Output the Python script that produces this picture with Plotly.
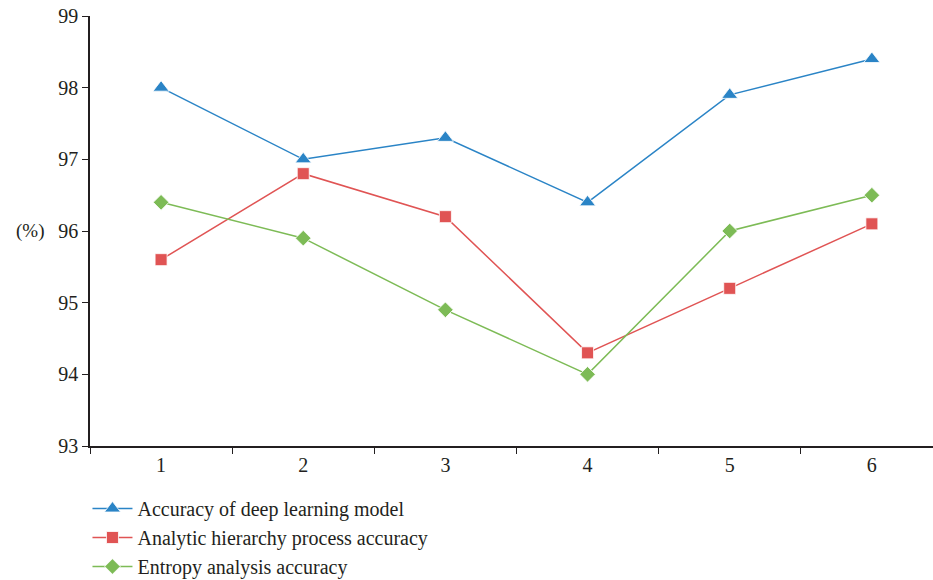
import plotly.graph_objects as go

categories = ["1", "2", "3", "4", "5", "6"]
deep_learning = [98.0, 97.0, 97.3, 96.4, 97.9, 98.4]
ahp = [95.6, 96.8, 96.2, 94.3, 95.2, 96.1]
entropy = [96.4, 95.9, 94.9, 94.0, 96.0, 96.5]
y_ticks = [93, 94, 95, 96, 97, 98, 99]

FONT = "Liberation Serif"
INK = "#231f20"

series = [
    ("Accuracy of deep learning model", deep_learning, "#2a84c6", "triangle-up", 14),
    ("Analytic hierarchy process accuracy", ahp, "#e05454", "square", 12),
    ("Entropy analysis accuracy", entropy, "#7dbb56", "diamond", 12),
]

fig = go.Figure()
for name, vals, color, symbol, size in series:
    fig.add_trace(go.Scatter(
        x=categories, y=vals, name=name, mode="lines+markers",
        line=dict(color=color, width=1.5),
        marker=dict(symbol=symbol, size=size, color=color,
                    line=dict(color="white", width=0.8)),
    ))

fig.update_layout(
    width=933, height=580,
    margin=dict(l=90, r=0, t=16, b=134, autoexpand=False),
    paper_bgcolor="white", plot_bgcolor="white",
    font=dict(family=FONT, color=INK, size=19),
    showlegend=True,
    legend=dict(
        x=-0.003, y=-0.1, xanchor="left", yanchor="top",
        font=dict(family=FONT, size=20, color=INK),
        bgcolor="rgba(0,0,0,0)", tracegroupgap=0,
        itemwidth=40,
    ),
    xaxis=dict(
        type="category", range=[-0.5, 5.43],
        tickson="boundaries", ticks="outside", ticklen=6, tickcolor=INK,
        showline=True, linecolor=INK, linewidth=1.5,
        showgrid=False, zeroline=False,
        tickfont=dict(family=FONT, size=20, color=INK),
    ),
    yaxis=dict(
        range=[93, 99], tickvals=y_ticks,
        ticks="outside", ticklen=6, tickcolor=INK,
        showline=True, linecolor=INK, linewidth=1.5,
        showgrid=False, zeroline=False,
        tickfont=dict(family=FONT, size=20, color=INK),
    ),
)

fig.add_annotation(
    text="(%)", xref="paper", yref="paper", x=-0.052, y=0.5,
    xanchor="right", yanchor="middle", showarrow=False,
    font=dict(family=FONT, size=19, color=INK),
)

fig.write_html("out.html")
